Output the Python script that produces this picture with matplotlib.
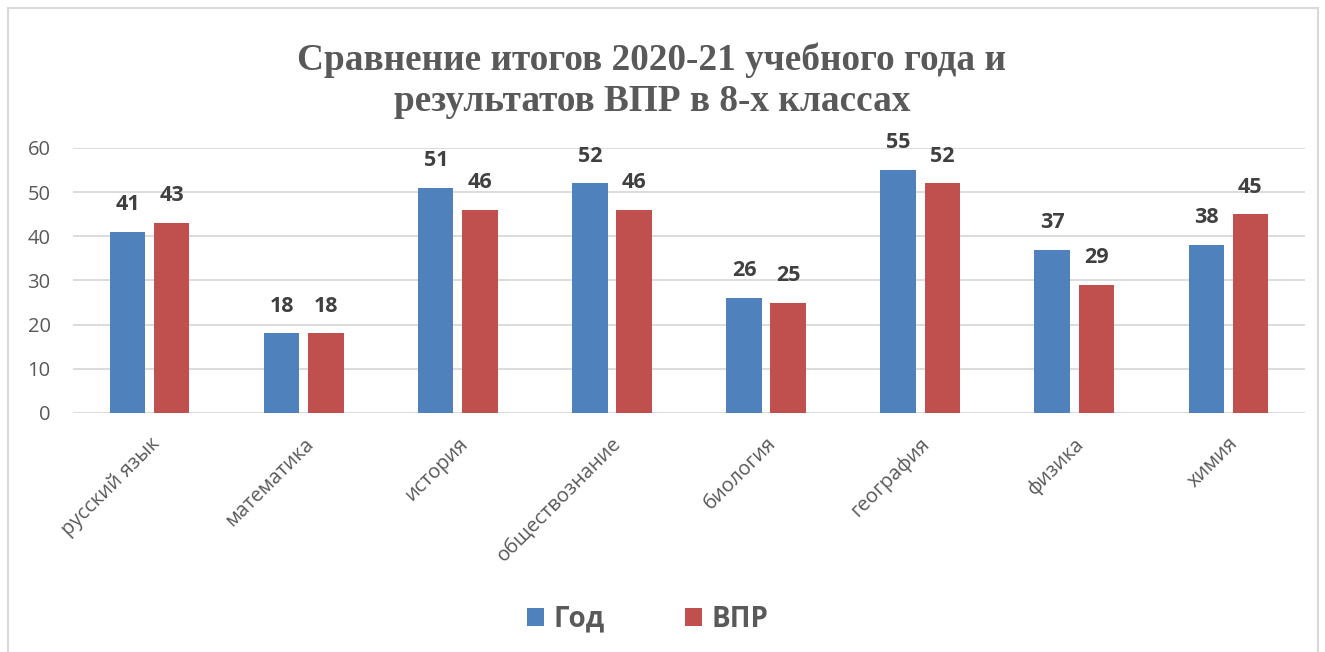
import matplotlib.pyplot as plt
import numpy as np
from matplotlib.patches import Rectangle

subjects = ['русский язык', 'математика', 'история', 'обществознание',
            'биология', 'география', 'физика', 'химия']
god = [41, 18, 51, 52, 26, 55, 37, 38]
vpr = [43, 18, 46, 46, 25, 52, 29, 45]
yticks = [0, 10, 20, 30, 40, 50, 60]

plt.rcParams['font.family'] = ['Open Sans', 'DejaVu Sans']

fig = plt.figure(figsize=(13.25, 6.52), dpi=100)
ax = fig.add_axes([0.055, 0.3666, 0.93, 0.4065])

x = np.arange(len(subjects))
w = 0.228
b1 = ax.bar(x - 0.143, god, w, color='#4f81bd', label='Год', zorder=3)
b2 = ax.bar(x + 0.143, vpr, w, color='#c0504d', label='ВПР', zorder=3)

for bars, vals in ((b1, god), (b2, vpr)):
    for r, v in zip(bars, vals):
        ax.annotate(str(v), (r.get_x() + r.get_width() / 2, v),
                    xytext=(0, 12), textcoords='offset points',
                    ha='center', va='bottom', fontsize=15.5,
                    fontweight='bold', color='#404040')

ax.set_xlim(-0.5, len(subjects) - 0.5)
ax.set_ylim(0, 60)
ax.set_yticks(yticks)
ax.yaxis.grid(True, color='#d9d9d9', lw=1.3, zorder=0)
for s in ax.spines.values():
    s.set_visible(False)
ax.tick_params(length=0, colors='#595959', labelsize=14.5)
ax.tick_params(axis='y', pad=16)
ax.set_xticks(x)
ax.set_xticklabels(subjects, rotation=45, ha='right', rotation_mode='anchor',
                   fontsize=14.5)
ax.tick_params(axis='x', pad=15)

fig.text(0.492, 0.876, 'Сравнение итогов 2020-21 учебного года и\nрезультатов ВПР в 8-х классах',
         ha='center', va='center', fontsize=26.8, fontweight='bold',
         family='Liberation Serif', color='#595959', linespacing=1.25)

leg = fig.legend(handles=[b1, b2], loc='center', bbox_to_anchor=(0.489, 0.05),
                 ncol=2, frameon=False, handlelength=0.6, handleheight=0.6,
                 handletextpad=0.35, columnspacing=2.9,
                 prop={'size': 20, 'weight': 'bold'})
for t in leg.get_texts():
    t.set_color('#595959')

fig.patches.append(Rectangle((8 / 1325, -0.01), 1310 / 1325, 1 - 8 / 652 + 0.01,
                             transform=fig.transFigure, fill=False,
                             edgecolor='#d9d9d9', lw=1.5))

fig.savefig('out.png', dpi=100)
